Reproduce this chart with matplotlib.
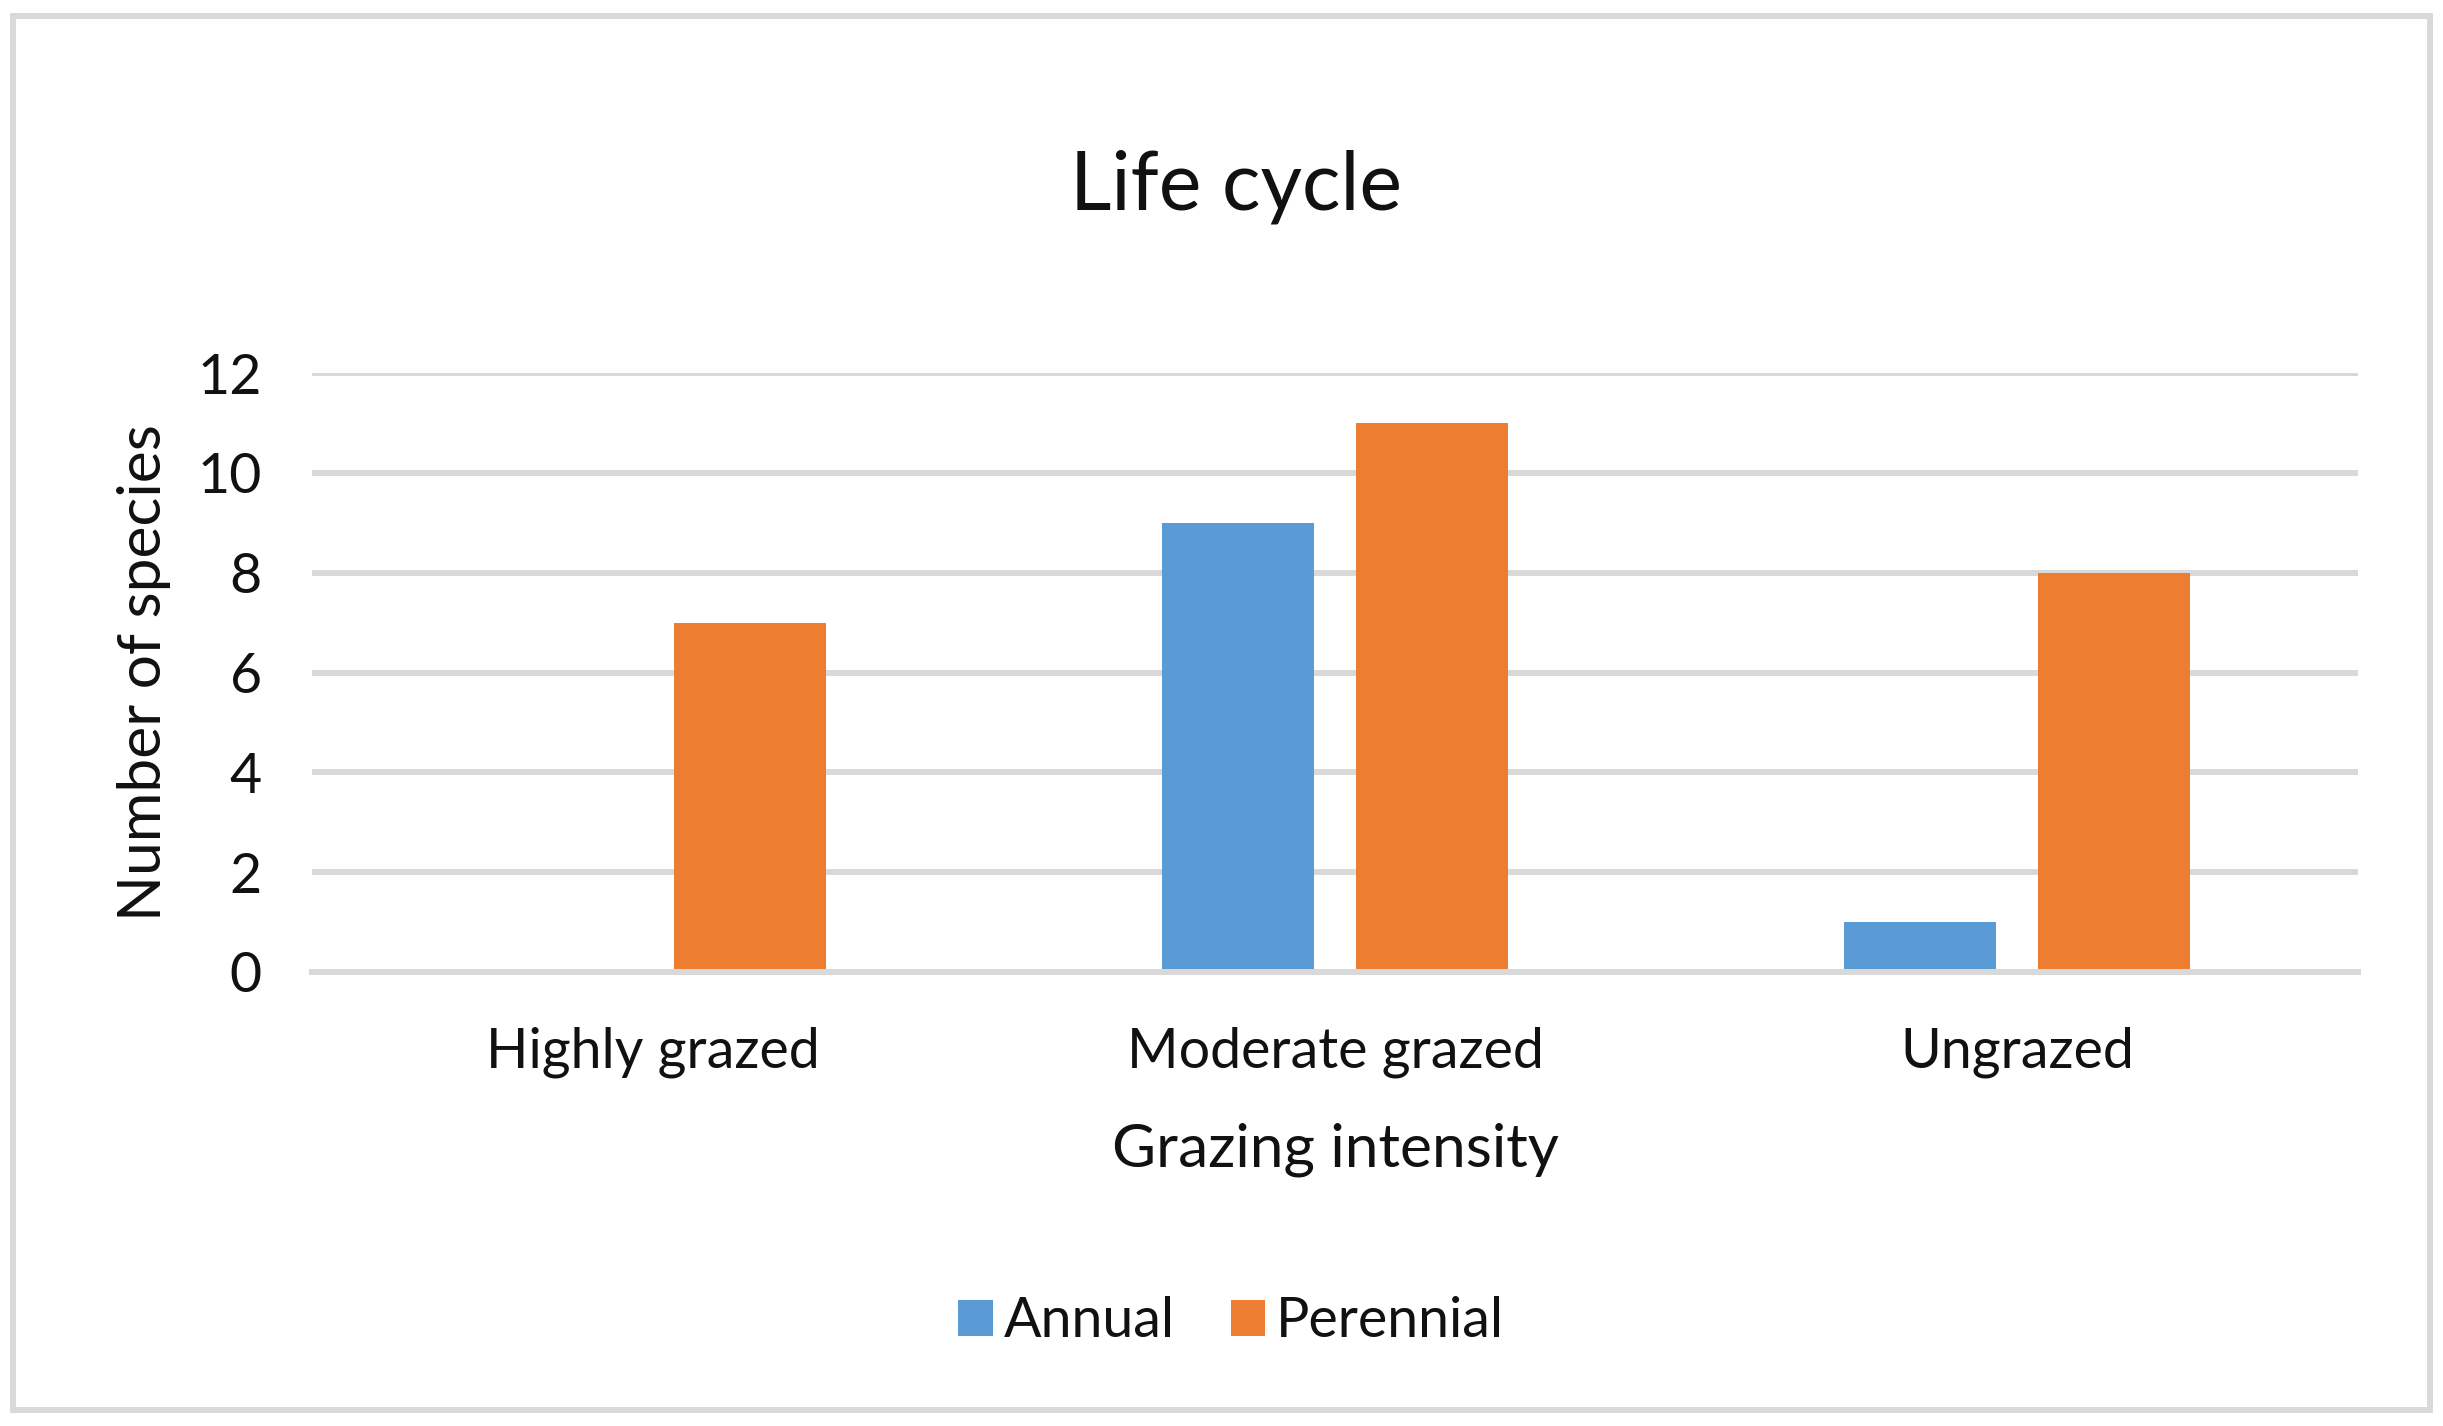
import numpy as np
import matplotlib.pyplot as plt
from matplotlib.patches import Rectangle

plt.rcParams['font.family'] = ['Lato', 'DejaVu Sans']

# data
categories = ['Highly grazed', 'Moderate grazed', 'Ungrazed']
annual = [0, 9, 1]
perennial = [7, 11, 8]
series_names = ['Annual', 'Perennial']
y_ticks = [0, 2, 4, 6, 8, 10, 12]

blue = '#5B9BD5'
orange = '#ED7D31'
grid_c = '#D9D9D9'
txt = '#111111'

fig = plt.figure(figsize=(24.43, 14.26), dpi=100)
ax = fig.add_axes([0.1277, 0.3184, 0.8375, 0.42])

x = np.arange(len(categories))
w = 0.222
off = 0.142
ax.bar(x - off, annual, w, color=blue, label=series_names[0], zorder=2)
ax.bar(x + off, perennial, w, color=orange, label=series_names[1], zorder=2)

ax.set_xlim(-0.5, 2.5)
ax.set_ylim(0, 12)
ax.set_yticks(y_ticks)
ax.set_xticks(x)
ax.set_xticklabels(categories)

ax.yaxis.grid(True, color=grid_c, linewidth=4.3, zorder=0)
ax.set_axisbelow(True)
for s in ['top', 'right', 'left']:
    ax.spines[s].set_visible(False)
ax.spines['bottom'].set_color(grid_c)
ax.spines['bottom'].set_linewidth(4.3)
ax.spines['bottom'].set_zorder(3)

ax.tick_params(axis='both', length=0, labelsize=40, colors=txt)
ax.tick_params(axis='y', pad=36)
ax.tick_params(axis='x', pad=39)

ax.set_xlabel('Grazing intensity', fontsize=43.5, color=txt, labelpad=32)
ax.set_ylabel('Number of species', fontsize=43.5, color=txt, labelpad=19)

fig.text(0.506, 0.869, 'Life cycle', fontsize=58, color=txt, ha='center', va='center')

fig.legend(loc='center', bbox_to_anchor=(0.504, 0.073), ncol=2, frameon=False,
           fontsize=40, handlelength=0.62, handleheight=0.62, handletextpad=0.2,
           columnspacing=1.0, labelcolor=txt)

# outer border of the chart
fig.patches.append(Rectangle((13 / 2443, 1 - 1410 / 1426), (2430 - 13) / 2443, (1410 - 16) / 1426,
                             transform=fig.transFigure, fill=False, edgecolor=grid_c,
                             linewidth=4.3, zorder=0))

fig.savefig('out.png', dpi=100, facecolor='white')
